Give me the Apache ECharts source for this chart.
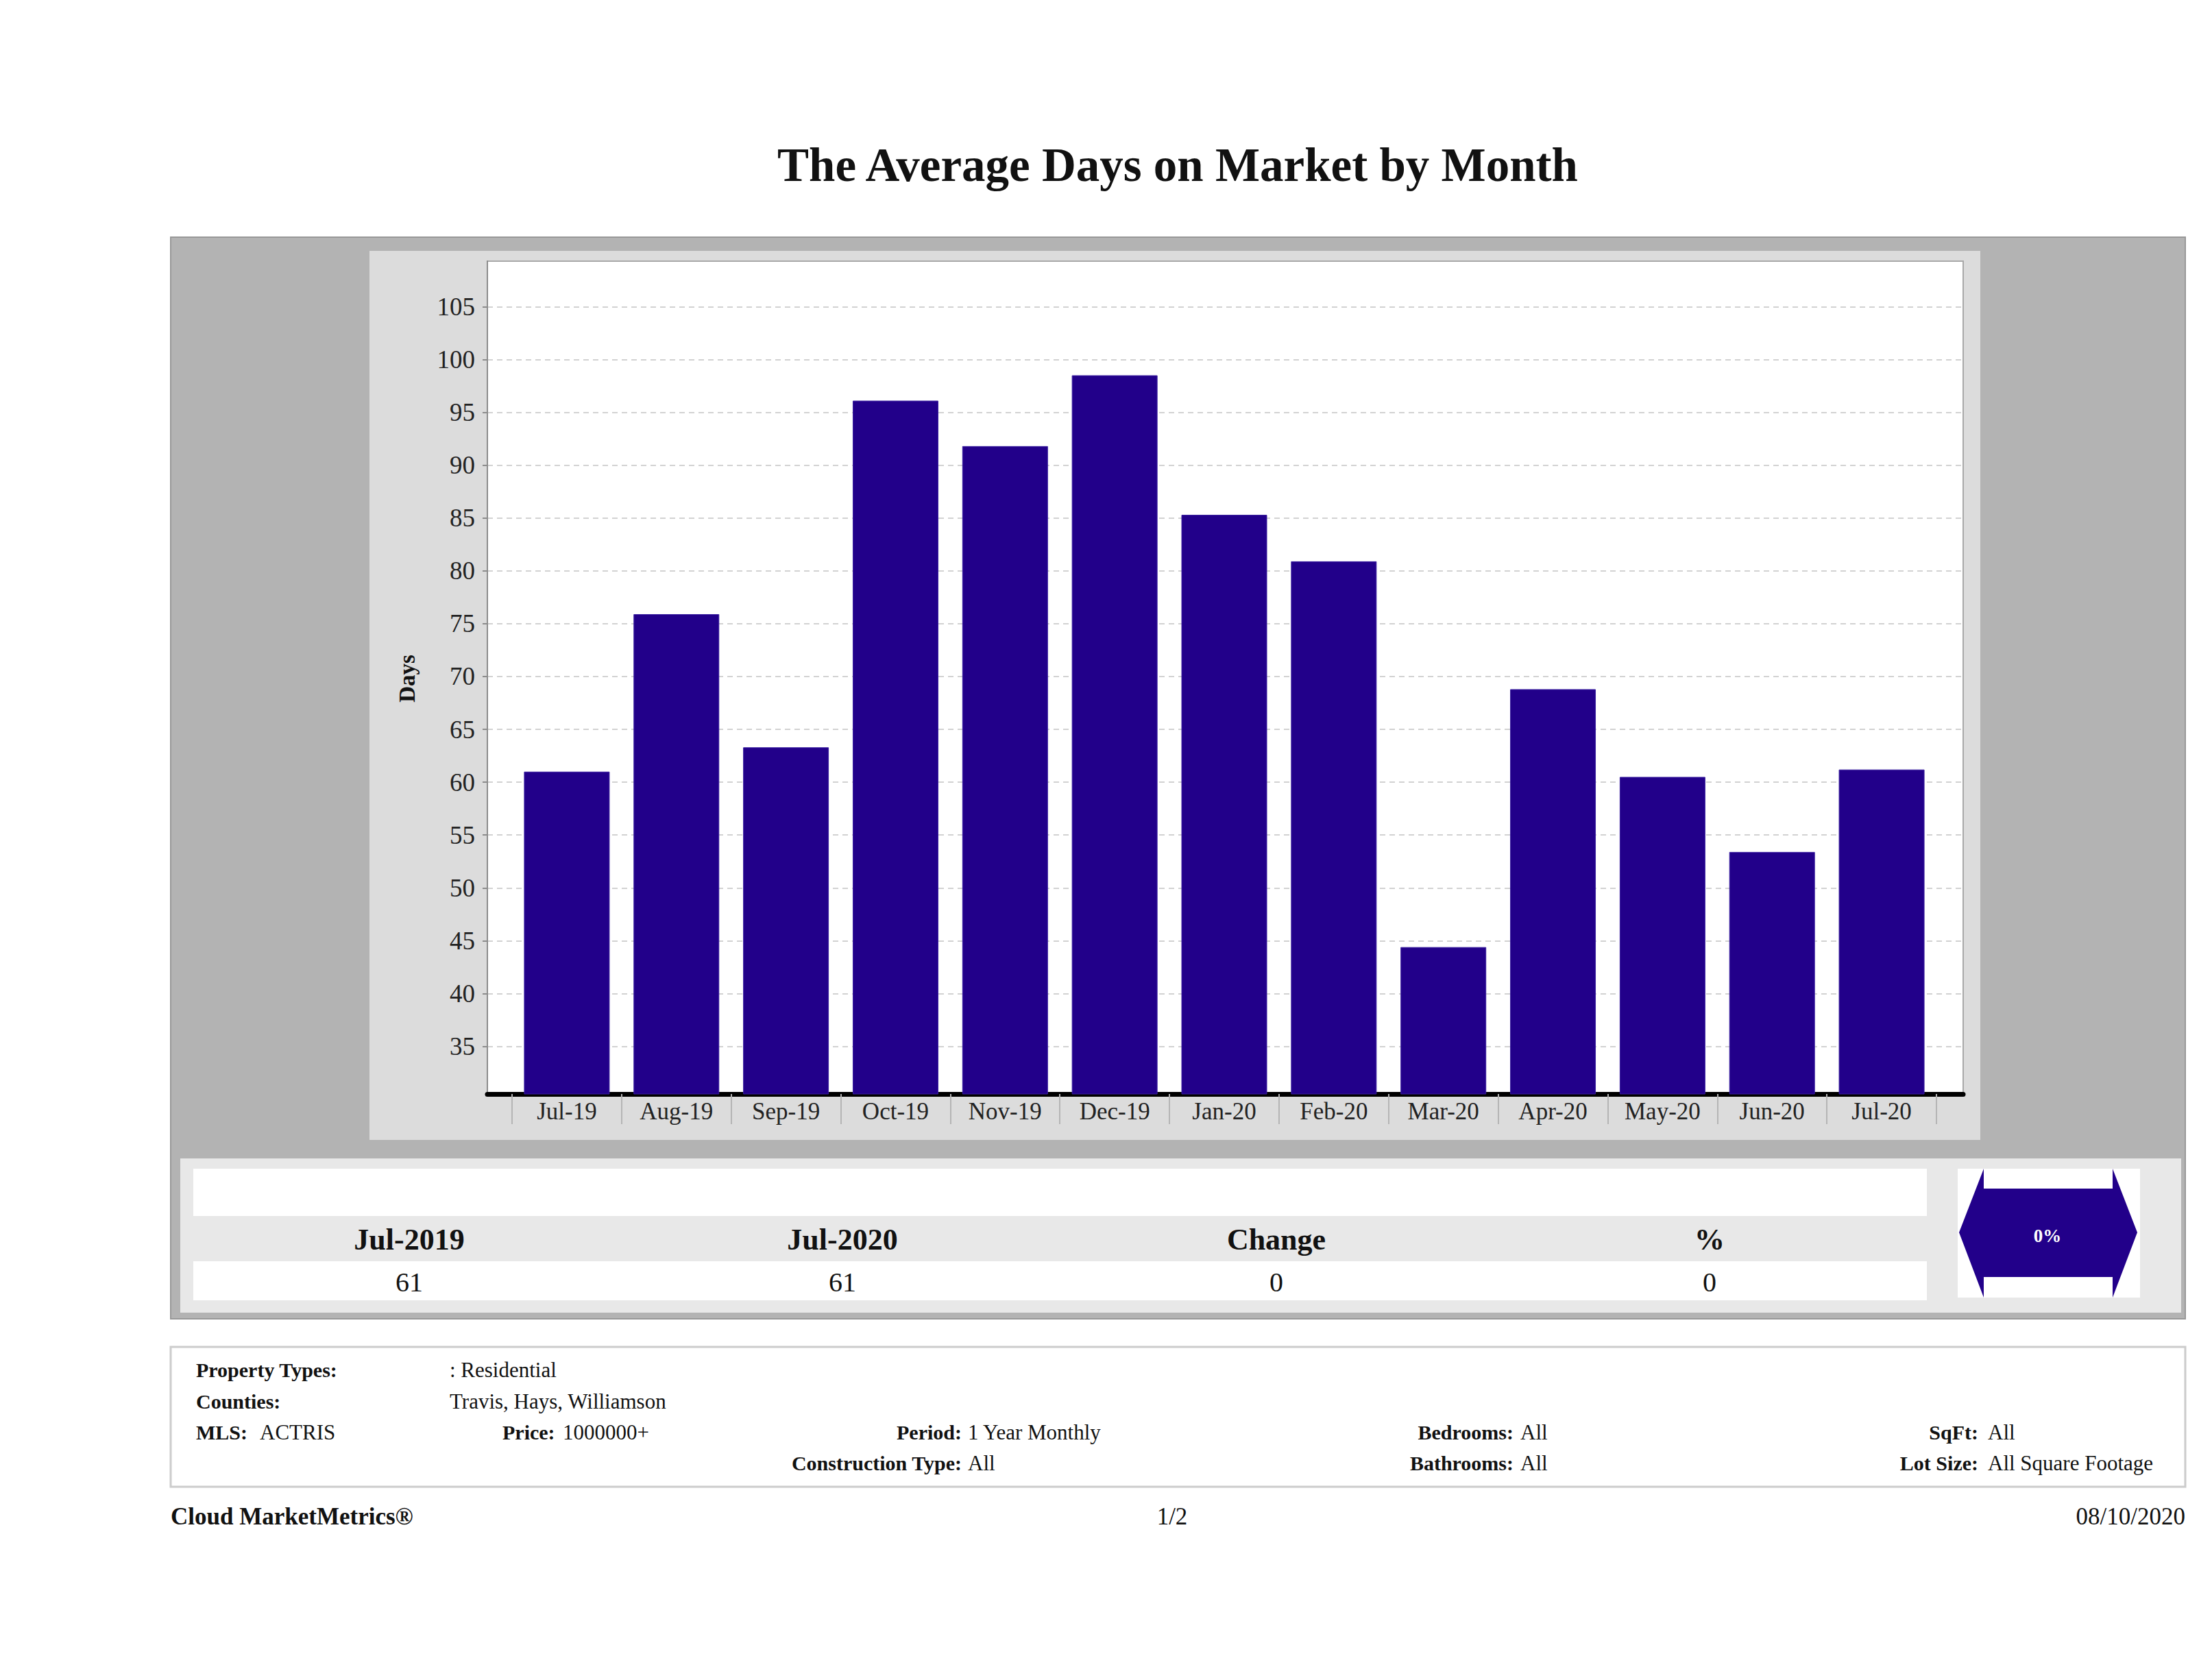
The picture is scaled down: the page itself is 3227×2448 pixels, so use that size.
<!DOCTYPE html>
<html>
<head>
<meta charset="utf-8">
<script src="https://cdn.jsdelivr.net/npm/echarts@6/dist/echarts.min.js"></script>
<style>
html,body{margin:0;padding:0;background:#ffffff;}
#chart{width:3227px;height:2448px;}
</style>
</head>
<body>
<div id="chart"></div>
<script>
// ---- data ----
const categories = ['Jul-19','Aug-19','Sep-19','Oct-19','Nov-19','Dec-19','Jan-20','Feb-20','Mar-20','Apr-20','May-20','Jun-20','Jul-20'];
const avgDays = [61.0, 75.9, 63.3, 96.1, 91.8, 98.5, 85.3, 80.9, 44.4, 68.8, 60.5, 53.4, 61.2];
const yMin = 30.5;
const yMax = 109.3;
const yStep = 5;
const summaryHeaders = ['Jul-2019', 'Jul-2020', 'Change', '%'];
const summaryValues = ['61', '61', '0', '0'];
const changeBadge = '0%';
const titleText = 'The Average Days on Market by Month';
const yAxisName = 'Days';

const SERIF = '"Liberation Serif", "Times New Roman", serif';
const BAR = '#22008a';

const chart = echarts.init(document.getElementById('chart'), null, {renderer: 'svg', width: 3227, height: 2448});

function txt(text, x, y, size, opts) {
  opts = opts || {};
  return {
    type: 'text', x: x, y: y, z: 20, rotation: opts.rotation || 0,
    style: {
      text: text, fontFamily: SERIF, fontSize: size,
      fontWeight: opts.bold ? 'bold' : 'normal',
      fill: opts.fill || '#111',
      align: opts.align || 'left', verticalAlign: 'middle'
    }
  };
}
function rect(x, y, w, h, fill, stroke, lw, z) {
  return {type: 'rect', z: z == null ? -5 : z, shape: {x: x, y: y, width: w, height: h},
    style: {fill: fill, stroke: stroke || null, lineWidth: lw || 0}};
}

const headerX = [597, 1229, 1862, 2494];
const B = 30, R = 31;
const graphics = [
  rect(249, 346, 2939, 1578, '#b3b3b3', '#989898', 2, -10),
  rect(539, 366, 2350, 1297, '#dcdcdc', null, 0, -9),
  rect(711, 381, 2153, 1215, '#ffffff', '#a8a8a8', 2, -8),
  rect(263, 1690, 2919, 225, '#e8e8e8', null, 0, -9),
  rect(282, 1705, 2529, 69, '#ffffff', null, 0, -8),
  rect(282, 1840, 2529, 57, '#ffffff', null, 0, -8),
  rect(2856, 1705, 266, 188, '#ffffff', null, 0, -8),
  {type: 'polygon', z: 5, shape: {points: [
      [2858,1798],[2894,1705],[2894,1734],[3082,1734],[3082,1705],[3118,1798],
      [3082,1893],[3082,1863],[2894,1863],[2894,1893]]},
    style: {fill: BAR}},
  rect(249, 1965, 2939, 204, '#ffffff', '#cccccc', 3, -8),
  txt(titleText, 1718, 241, 69, {bold: true, align: 'center'}),
  txt(yAxisName, 594, 990, 33, {bold: true, align: 'center', rotation: Math.PI / 2}),
  txt(changeBadge, 2987, 1803, 27, {bold: true, align: 'center', fill: '#ffffff'}),
  // info panel
  txt('Property Types:', 286, 1998, B, {bold: true}),
  txt(': Residential', 656, 1998, R),
  txt('Counties:', 286, 2044, B, {bold: true}),
  txt('Travis, Hays, Williamson', 656, 2044, R),
  txt('MLS:', 286, 2089, B, {bold: true}),
  txt('ACTRIS', 379, 2089, R),
  txt('Price:', 733, 2089, B, {bold: true}),
  txt('1000000+', 821, 2089, R),
  txt('Period:', 1403, 2089, B, {bold: true, align: 'right'}),
  txt('1 Year Monthly', 1412, 2089, R),
  txt('Construction Type:', 1403, 2134, B, {bold: true, align: 'right'}),
  txt('All', 1412, 2134, R),
  txt('Bedrooms:', 2208, 2089, B, {bold: true, align: 'right'}),
  txt('All', 2218, 2089, R),
  txt('Bathrooms:', 2208, 2134, B, {bold: true, align: 'right'}),
  txt('All', 2218, 2134, R),
  txt('SqFt:', 2886, 2089, B, {bold: true, align: 'right'}),
  txt('All', 2900, 2089, R),
  txt('Lot Size:', 2886, 2134, B, {bold: true, align: 'right'}),
  txt('All Square Footage', 2900, 2134, R),
  // footer
  txt('Cloud MarketMetrics\u00AE', 249, 2212, 35, {bold: true}),
  txt('1/2', 1710, 2212, 35, {align: 'center'}),
  txt('08/10/2020', 3188, 2212, 35, {align: 'right'})
];
summaryHeaders.forEach(function (h, i) { graphics.push(txt(h, headerX[i], 1808, 44, {bold: true, align: 'center'})); });
summaryValues.forEach(function (v, i) { graphics.push(txt(v, headerX[i], 1870, 40, {align: 'center'})); });

const option = {
  animation: false,
  backgroundColor: '#ffffff',
  graphic: graphics,
  grid: [
    {left: 711, top: 381, width: 2153, height: 1215, show: false},
    {left: 747, top: 381, width: 2078, height: 1215, show: false}
  ],
  xAxis: [
    {gridIndex: 0, type: 'value', min: 0, max: 1, axisLine: {show: true, onZero: false, lineStyle: {color: '#000000', width: 7}},
      axisTick: {show: false}, axisLabel: {show: false}, splitLine: {show: false}},
    {gridIndex: 1, type: 'category', data: categories, boundaryGap: true,
      axisLine: {show: false},
      axisTick: {show: true, interval: 0, length: 44, lineStyle: {color: '#b5b5b5', width: 2}},
      axisLabel: {interval: 0, margin: 8, fontFamily: SERIF, fontSize: 35, color: '#222222'},
      splitLine: {show: false}}
  ],
  yAxis: [
    {gridIndex: 0, type: 'value', min: yMin, max: yMax, minInterval: yStep, maxInterval: yStep,
      axisLine: {show: true, lineStyle: {color: '#8c8c8c', width: 2}},
      axisTick: {show: true, length: 7, lineStyle: {color: '#8c8c8c', width: 2}},
      axisLabel: {showMinLabel: false, showMaxLabel: false, margin: 18, fontFamily: SERIF, fontSize: 37, color: '#222222',
        formatter: function (v) { return (Math.abs(v / yStep - Math.round(v / yStep)) < 1e-6) ? String(Math.round(v)) : ''; }},
      splitLine: {show: true, showMinLine: false, showMaxLine: false, lineStyle: {color: '#d2d2d2', width: 2, type: [8, 6]}}},
    {gridIndex: 1, type: 'value', min: yMin, max: yMax, show: false, splitLine: {show: false}}
  ],
  series: [{
    type: 'bar', xAxisIndex: 1, yAxisIndex: 1, data: avgDays, barWidth: 125,
    itemStyle: {color: BAR, borderColor: '#3a1fa0', borderWidth: 1}
  }]
};
chart.setOption(option);
</script>
</body>
</html>
